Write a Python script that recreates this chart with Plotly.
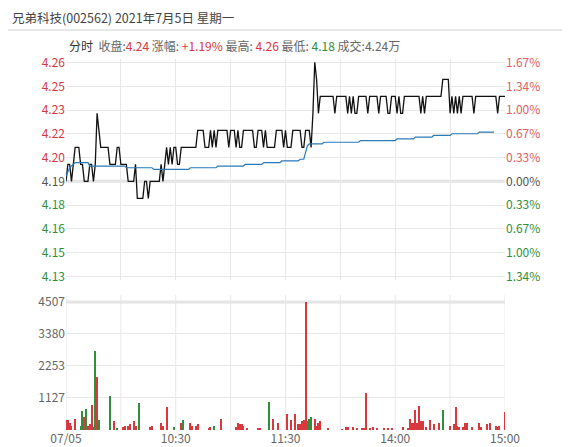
import plotly.graph_objects as go
from plotly.subplots import make_subplots

prev_close = 4.19
minute_labels = ["07/05", "10:30", "11:30", "14:00", "15:00"]
minute_ticks = [0, 60, 120, 180, 240]
pct_labels = ["1.67%", "1.34%", "1.00%", "0.67%", "0.33%", "0.00%", "0.33%", "0.67%", "1.00%", "1.34%"]

price = ([4.19, 4.20, 4.20, 4.19, 4.20, 4.21, 4.21, 4.21, 4.20, 4.20, 4.19, 4.19, 4.19,
          4.20, 4.20, 4.19, 4.20, 4.23, 4.22] + [4.21] * 5 + [4.20] * 4 + [4.21] * 2 +
         [4.20] * 4 + [4.19] * 4 + [4.20] + [4.18] * 4 + [4.19, 4.19, 4.18] + [4.19] * 6 +
         [4.20, 4.19, 4.20, 4.21, 4.20, 4.21, 4.20, 4.21, 4.21, 4.20, 4.20] + [4.21] * 9 +
         [4.22] * 4 + [4.21] * 3 + [4.22, 4.21, 4.22, 4.21] + [4.22] * 6 + [4.21] +
         [4.22] * 3 + [4.21, 4.22, 4.21, 4.21] + [4.22] * 6 + [4.21] * 2 + [4.22] * 3 +
         [4.21, 4.22] + [4.21] * 5 + [4.22] * 4 + [4.21, 4.22] + [4.21] * 3 + [4.22] * 5 +
         [4.21, 4.21, 4.22, 4.22, 4.22, 4.21, 4.23, 4.26, 4.25, 4.23] + [4.24] * 8 +
         [4.23] + [4.24] * 6 + [4.23, 4.24, 4.23, 4.24, 4.23, 4.23] + [4.24] * 5 + [4.23] +
         [4.24] * 5 + [4.23] + [4.24] * 4 + [4.23] * 2 + [4.24] * 3 + [4.23, 4.24, 4.23, 4.23] +
         [4.24] * 9 + [4.23, 4.24, 4.23] + [4.24] * 9 + [4.25] * 4 +
         [4.23, 4.24, 4.23, 4.24, 4.23, 4.24, 4.23] + [4.24] * 6 + [4.23] + [4.24] * 12 +
         [4.23] + [4.24] * 9)

avg_price = ([4.193, 4.196, 4.198, 4.199, 4.200] + [4.201] * 8 + [4.199] * 20 +
             [4.198] * 15 + [4.197] * 20 + [4.198] * 15 + [4.199] * 15 + [4.200] * 10 +
             [4.201] * 10 + [4.202] * 10 + [4.203] * 3 + [4.207, 4.211] + [4.212] * 8 +
             [4.213] * 20 + [4.214] * 20 + [4.215] * 10 + [4.216] * 10 + [4.217] * 10 +
             [4.218] * 15 + [4.219] * 9)

vol_minute = [0, 1, 2, 3, 5, 8, 9, 10, 11, 12, 13, 14, 15, 16, 17, 18, 24, 26, 28, 31, 32, 34,
              35, 37, 38, 40, 46, 47, 52, 53, 55, 59, 63, 64, 68, 69, 71, 72, 78, 79, 81, 85,
              93, 94, 95, 96, 97, 99, 105, 106, 111, 113, 116, 121, 123, 125, 127, 128, 129,
              130, 131, 132, 133, 134, 136, 137, 138, 139, 143, 151, 153, 154, 157, 159, 162,
              163, 164, 166, 168, 170, 174, 176, 178, 184, 187, 188, 189, 190, 191, 192, 193,
              194, 195, 197, 199, 201, 204, 206, 210, 212, 213, 214, 215, 217, 218, 219, 222,
              226, 227, 230, 232, 235, 236, 237, 240]
vol_value = [350, 350, 250, 150, 400, 150, 680, 450, 750, 150, 200, 870, 100, 2790, 1880, 350,
             1190, 300, 50, 100, 150, 150, 200, 300, 150, 950, 120, 150, 250, 150, 800, 100,
             250, 350, 250, 150, 150, 200, 50, 100, 150, 400, 100, 250, 200, 200, 150, 80, 50,
             50, 1000, 400, 250, 550, 350, 550, 200, 200, 300, 350, 4507, 300, 400, 450, 400,
             150, 250, 300, 50, 30, 100, 100, 100, 50, 50, 50, 1300, 80, 100, 80, 50, 50, 80,
             100, 50, 400, 250, 250, 700, 250, 850, 300, 300, 100, 350, 200, 250, 700, 150,
             200, 800, 150, 100, 100, 250, 250, 100, 250, 100, 200, 250, 150, 100, 150, 650]
vol_green = {8, 9, 11, 16, 18, 24, 28, 40, 59, 64, 81, 111, 133, 134, 206}

RED = "#d9383f"
GREEN = "#2f8f3a"
GRAY = "#555555"
step = prev_close / 300.0

fig = make_subplots(rows=2, cols=1, shared_xaxes=True, vertical_spacing=0.04,
                    specs=[[{"secondary_y": True}], [{}]])

fig.add_trace(go.Scatter(x=list(range(len(price))), y=price, mode="lines",
                         line=dict(color="#111111", width=1.3)), row=1, col=1)
fig.add_trace(go.Scatter(x=list(range(len(avg_price))), y=avg_price, mode="lines",
                         line=dict(color="#2a7ab8", width=1.2)), row=1, col=1)
fig.add_trace(go.Scatter(x=[0], y=[prev_close], mode="markers", marker=dict(opacity=0),
                         hoverinfo="skip"), row=1, col=1, secondary_y=True)
fig.add_trace(go.Bar(x=vol_minute, y=vol_value, width=0.55,
                     marker=dict(color=[GREEN if m in vol_green else RED for m in vol_minute],
                                 line=dict(width=0))), row=2, col=1)

ks = [5, 4, 3, 2, 1, 0, -1, -2, -3, -4]
tv = [prev_close + k * step for k in ks]
def col(k, up=RED):
    return up if k > 0 else (GREEN if k < 0 else GRAY)
left_txt = [f"<span style='color:{col(k)}'>{prev_close + k * step:.2f}</span>" for k in ks]
right_txt = [f"<span style='color:{col(k, '#e06060')}'>{p}</span>" for k, p in zip(ks, pct_labels)]
yr = [prev_close - 4.15 * step, prev_close + 5.15 * step]

fig.update_yaxes(range=yr, tickvals=tv, ticktext=left_txt, showgrid=True, gridcolor="#e8e8e8",
                 zeroline=False, ticks="", automargin=False, row=1, col=1, secondary_y=False)
fig.update_yaxes(range=yr, tickvals=tv, ticktext=right_txt, showgrid=False, zeroline=False,
                 ticks="", automargin=False, row=1, col=1, secondary_y=True)
fig.update_yaxes(range=[0, 4750], tickvals=[1127, 2253, 3380, 4507],
                 ticktext=["1127", "2253", "3380", "4507"], tickfont=dict(color="#666666"),
                 showgrid=True, gridcolor="#e8e8e8", zeroline=False, ticks="", automargin=False,
                 row=2, col=1)
fig.update_xaxes(range=[0, 240], showgrid=True, gridcolor="#e8e8e8", dtick=30, tick0=0,
                 showticklabels=False, zeroline=False, automargin=False, row=1, col=1)
fig.update_xaxes(range=[0, 240], tickmode="array", tickvals=minute_ticks, ticktext=minute_labels,
                 showgrid=False, zeroline=False, tickfont=dict(color="#666666"),
                 automargin=False, row=2, col=1)
for m in range(0, 241, 30):
    fig.add_shape(type="line", x0=m, x1=m, y0=0, y1=4750, xref="x2", yref="y3",
                  line=dict(color="#e8e8e8", width=1), layer="below")

fig.add_shape(type="line", x0=0, x1=240, y0=prev_close, y1=prev_close, xref="x", yref="y",
              line=dict(color="#e2e2e2", width=3), layer="below")
fig.add_shape(type="line", x0=0, x1=240, y0=4507, y1=4507, xref="x2", yref="y3",
              line=dict(color="#e2e2e2", width=3), layer="below")
fig.add_shape(type="line", x0=-0.2, x1=1.2, y0=1.061, y1=1.061, xref="paper", yref="paper",
              line=dict(color="#d0d0d0", width=1))

fig.update_layout(
    width=570, height=447, showlegend=False, bargap=0,
    paper_bgcolor="white", plot_bgcolor="white",
    margin=dict(l=58, r=45, t=45, b=25),
    font=dict(family="Noto Sans CJK SC, sans-serif", size=12, color=GRAY),
    annotations=[
        dict(text="兄弟科技(002562) 2021年7月5日 星期一", x=0, y=1.093, xref="paper",
             yref="paper", xanchor="left", yanchor="middle", showarrow=False, xshift=-56,
             font=dict(size=12.5, color="#444444")),
        dict(text=(f"<span style='color:#333'>分时</span>  收盘:<span style='color:{RED}'>4.24</span>"
                   f" 涨幅: <span style='color:{RED}'>+1.19%</span> 最高: "
                   f"<span style='color:{RED}'>4.26</span> 最低: <span style='color:{GREEN}'>4.18</span>"
                   f" 成交:4.24万"),
             x=0, y=1.019, xref="paper", yref="paper", xanchor="left", yanchor="middle",
             showarrow=False, xshift=1, font=dict(size=12, color="#666666")),
    ],
)
fig.update_yaxes(domain=[0.398, 0.984], row=1, col=1)
fig.update_yaxes(domain=[0.0, 0.358], row=2, col=1)
fig.write_html("out.html")
